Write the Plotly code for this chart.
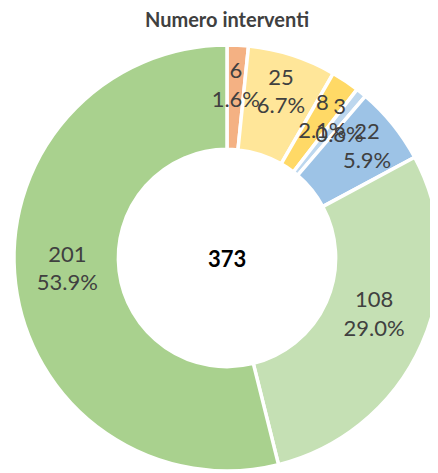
import plotly.graph_objects as go

categories = ["A", "B", "C", "D", "E", "F", "G"]
values = [6, 25, 8, 3, 22, 108, 201]
colors = ["#F4B183", "#FFE699", "#FFD966", "#BDD7EE", "#9DC3E6", "#C5E0B4", "#A9D18E"]
label_group = ["small", "mid", "small", "small", "mid", "big", "big"]
title_text = "Numero interventi"
total_text = str(sum(values))

H = 473
dom_full = dict(x=[0, 1], y=[10 / H, 436 / H])
label_domains = {
    "small": dict(x=[30 / 426, 396 / 426], y=[40 / H, 406 / H]),
    "mid": dom_full,
    "big": dict(x=[0, 1], y=[20 / H, 446 / H]),
}

common = dict(labels=categories, values=values, sort=False, direction="clockwise",
              rotation=0, hole=0.51, showlegend=False, hoverinfo="skip")
label_tpl = "%{value}<br>%{percent:.1%}"
txtfont = dict(family="Lato", size=22, color="#404040")
clear = dict(colors=["rgba(0,0,0,0)"] * len(values), line=dict(width=0))

fig = go.Figure()
fig.add_trace(go.Pie(
    marker=dict(colors=colors, line=dict(color="white", width=3.5)),
    textinfo="none", domain=dom_full,
    **common,
))
for grp, dom in label_domains.items():
    fig.add_trace(go.Pie(
        marker=clear,
        texttemplate=[label_tpl if g == grp else "" for g in label_group],
        textposition="inside", insidetextorientation="horizontal",
        textfont=txtfont, domain=dom,
        **common,
    ))

fig.update_layout(
    width=438, height=H,
    margin=dict(l=6, r=6, t=0, b=0),
    paper_bgcolor="white",
    uniformtext=dict(minsize=22, mode="show"),
    title=dict(text="<b>" + title_text + "</b>", x=0.5, xanchor="center", y=1 - 12 / H, yanchor="middle",
               font=dict(family="Lato", size=20, color="#404040")),
    annotations=[dict(text="<b>" + total_text + "</b>", x=0.5, y=(H - 250) / H, xref="paper", yref="paper",
                      showarrow=False, xanchor="center", yanchor="middle",
                      font=dict(family="Lato", size=22, color="black"))],
)

fig.write_html("out.html")
